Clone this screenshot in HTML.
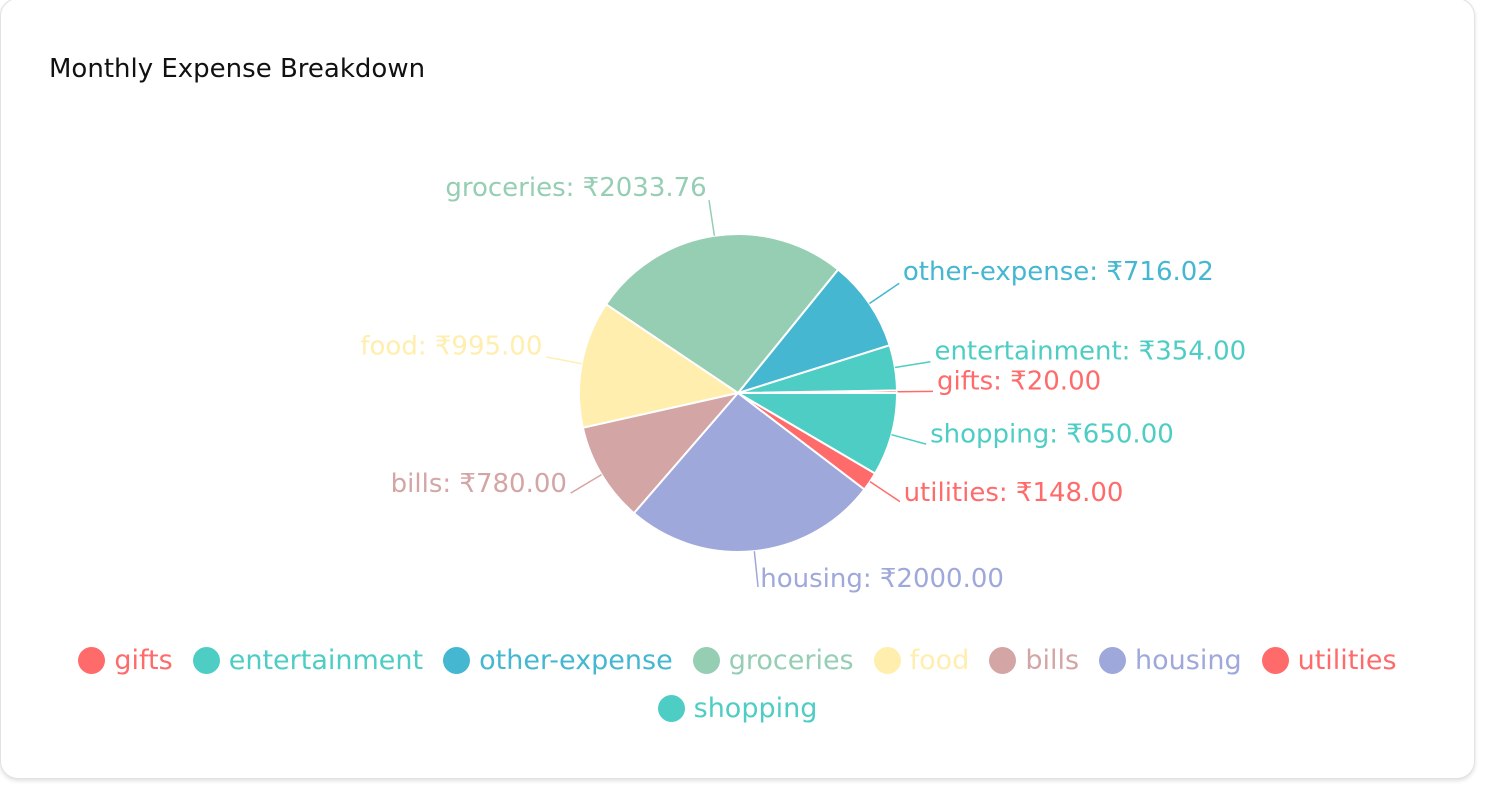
<!DOCTYPE html>
<html><head><meta charset="utf-8">
<style>
html,body{margin:0;padding:0;background:#fff;width:1498px;height:792px;overflow:hidden;font-family:"DejaVu Sans","Liberation Sans",sans-serif;}
.card{position:absolute;left:0;top:-2px;width:1475px;height:781px;border:1px solid #e2e2e2;border-radius:18px;box-shadow:0 2px 4px rgba(0,0,0,0.12);background:#fff;box-sizing:border-box;}
.title{position:absolute;left:49px;top:54px;font-size:26px;color:#111;}
svg{position:absolute;left:0;top:0;}
.legend{position:absolute;left:0;top:637px;width:1475px;display:flex;flex-wrap:wrap;justify-content:center;padding:0 14px;box-sizing:border-box;row-gap:2px;}
.li{display:flex;align-items:center;font-size:27px;margin:0 10px;height:46px;}
.dot{width:27px;height:27px;border-radius:50%;margin-right:9px;}
</style></head><body>
<div class="card"></div>
<div class="title">Monthly Expense Breakdown</div>
<svg id="pie" width="1498" height="792"></svg>
<div class="legend" id="legend"></div>
<script>
const categories=["gifts","entertainment","other-expense","groceries","food","bills","housing","utilities","shopping"];
const values=[20,354,716.02,2033.76,995,780,2000,148,650];
const colors=["#FF6B6B","#4ECDC4","#45B7D1","#96CEB4","#FFEEAD","#D4A5A5","#9FA8DA","#FF6B6B","#4ECDC4"];
const cx=738,cy=393,R=159,LR=R+38;
const svg=document.getElementById('pie');
const NS="http://www.w3.org/2000/svg";
const total=values.reduce((a,b)=>a+b,0);
function pt(r,deg){const a=deg*Math.PI/180;return [cx+r*Math.cos(a),cy-r*Math.sin(a)];}
let start=0;
values.forEach((v,i)=>{
  const sweep=v/total*360,end=start+sweep;
  const [x1,y1]=pt(R,start),[x2,y2]=pt(R,end);
  const p=document.createElementNS(NS,'path');
  p.setAttribute('d',`M${cx},${cy}L${x1},${y1}A${R},${R} 0 ${sweep>180?1:0} 0 ${x2},${y2}Z`);
  p.setAttribute('fill',colors[i]);p.setAttribute('stroke','#fff');p.setAttribute('stroke-width','2');
  
  
  svg.appendChild(p);
  const mid=start+sweep/2;
  const [ax,ay]=pt(R,mid),[bx,by]=pt(LR-2,mid),[tx,ty]=pt(LR,mid);
  const l=document.createElementNS(NS,'line');
  l.setAttribute('x1',ax);l.setAttribute('y1',ay);l.setAttribute('x2',bx);l.setAttribute('y2',by);
  l.setAttribute('stroke',colors[i]);l.setAttribute('stroke-width','1.5');
  
  
  svg.appendChild(l);
  const t=document.createElementNS(NS,'text');
  t.setAttribute('x',tx+(tx>cx?2:-2));t.setAttribute('y',ty-10);
  t.setAttribute('text-anchor',tx>cx?'start':'end');t.setAttribute('dominant-baseline','central');
  t.setAttribute('fill',colors[i]);t.setAttribute('font-size','26');
  t.textContent=categories[i]+': ₹'+v.toFixed(2);
  
  
  svg.appendChild(t);
  start=end;
});
const lg=document.getElementById('legend');
categories.forEach((c,i)=>{
  const d=document.createElement('div');d.className='li';d.style.color=colors[i];
  
  
  const s=document.createElement('span');s.className='dot';s.style.background=colors[i];
  
  
  d.appendChild(s);d.appendChild(document.createTextNode(c));lg.appendChild(d);
});
</script>
</body></html>
